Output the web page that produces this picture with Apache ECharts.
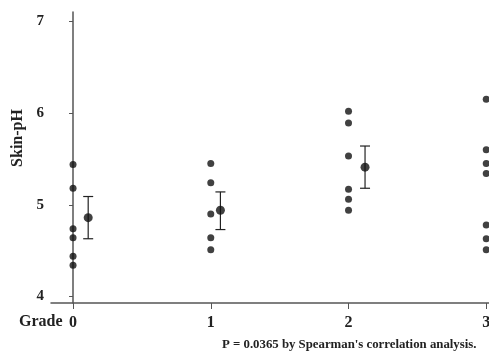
<!DOCTYPE html>
<html>
<head>
<meta charset="utf-8">
<script src="https://cdn.jsdelivr.net/npm/echarts@6/dist/echarts.min.js"></script>
<style>
  html, body { margin: 0; padding: 0; background: #fff; }
  #chart { width: 489px; height: 355px; }
</style>
</head>
<body>
<div id="chart"></div>
<script>
// Individual skin-pH readings per grade
const grades = [0, 1, 2, 3];
const gradeLabels = ['0', '1', '2', '3'];
const grade0 = [5.44, 5.18, 4.74, 4.64, 4.44, 4.34];
const grade1 = [5.45, 5.24, 4.90, 4.64, 4.51];
const grade2 = [6.02, 5.89, 5.53, 5.17, 5.06, 4.94];
const grade3 = [6.15, 5.60, 5.45, 5.34, 4.78, 4.63, 4.51];

// Mean +/- error, drawn slightly to the right of each group
const meanGrades = [0.11, 1.07, 2.12];
const means = [4.86, 4.94, 5.41];
const errLow = [4.63, 4.73, 5.18];
const errHigh = [5.09, 5.14, 5.64];

const yTicks = [4, 5, 6, 7];

const serif = '"Liberation Serif", "DejaVu Serif", serif';
const ink = '#222';
const axisCol = '#555';

const points = [];
[grade0, grade1, grade2, grade3].forEach((vals, i) => {
  vals.forEach(v => points.push([grades[i], v]));
});
const meanData = means.map((m, i) => [meanGrades[i], m]);
const errData = means.map((m, i) => [meanGrades[i], errLow[i], errHigh[i]]);

const chart = echarts.init(document.getElementById('chart'));
chart.setOption({
  animation: false,
  grid: { left: 51, right: 0, top: 12, bottom: 52, containLabel: false, outerBoundsMode: 'none' },
  xAxis: {
    type: 'value',
    min: -0.16,
    max: 3.02,
    splitLine: { show: false },
    axisLine: { show: true, lineStyle: { color: axisCol, width: 1.5 } },
    axisTick: { show: true, customValues: grades, length: 6, lineStyle: { color: axisCol } },
    axisLabel: {
      customValues: grades,
      formatter: v => gradeLabels[grades.indexOf(v)],
      color: ink, fontFamily: serif, fontWeight: 'bold', fontSize: 16, margin: 12
    }
  },
  yAxis: {
    type: 'value',
    min: 3.93,
    max: 7.1,
    splitLine: { show: false },
    axisLine: { show: true, lineStyle: { color: axisCol, width: 1.5 } },
    axisTick: { show: true, customValues: yTicks, length: 4, lineStyle: { color: axisCol } },
    axisLabel: {
      customValues: yTicks,
      color: ink, fontFamily: serif, fontWeight: 'bold', fontSize: 15, margin: 7
    }
  },
  graphic: [
    {
      type: 'text', x: 18, y: 138, rotation: Math.PI / 2,
      style: { text: 'Skin-pH', fill: ink, font: 'bold 16px ' + serif, align: 'center', verticalAlign: 'middle' }
    },
    {
      type: 'text', left: 19, top: 314,
      style: { text: 'Grade', fill: ink, font: 'bold 16px ' + serif }
    },
    {
      type: 'text', left: 222, top: 338,
      style: { text: "P = 0.0365 by Spearman's correlation analysis.", fill: ink, font: 'bold 12.8px ' + serif }
    }
  ],
  series: [
    {
      type: 'scatter',
      data: points,
      symbolSize: 7,
      itemStyle: { color: '#111' }
    },
    {
      type: 'custom',
      data: errData,
      renderItem: (params, api) => {
        const x = api.value(0);
        const lo = api.coord([x, api.value(1)]);
        const hi = api.coord([x, api.value(2)]);
        const w = 5;
        const style = { stroke: '#222', lineWidth: 1.2 };
        return {
          type: 'group',
          children: [
            { type: 'line', shape: { x1: lo[0], y1: lo[1], x2: hi[0], y2: hi[1] }, style },
            { type: 'line', shape: { x1: lo[0] - w, y1: lo[1], x2: lo[0] + w, y2: lo[1] }, style },
            { type: 'line', shape: { x1: hi[0] - w, y1: hi[1], x2: hi[0] + w, y2: hi[1] }, style }
          ]
        };
      },
      z: 3
    },
    {
      type: 'scatter',
      data: meanData,
      symbolSize: 9,
      itemStyle: { color: '#111' },
      z: 4
    }
  ]
});
</script>
</body>
</html>
